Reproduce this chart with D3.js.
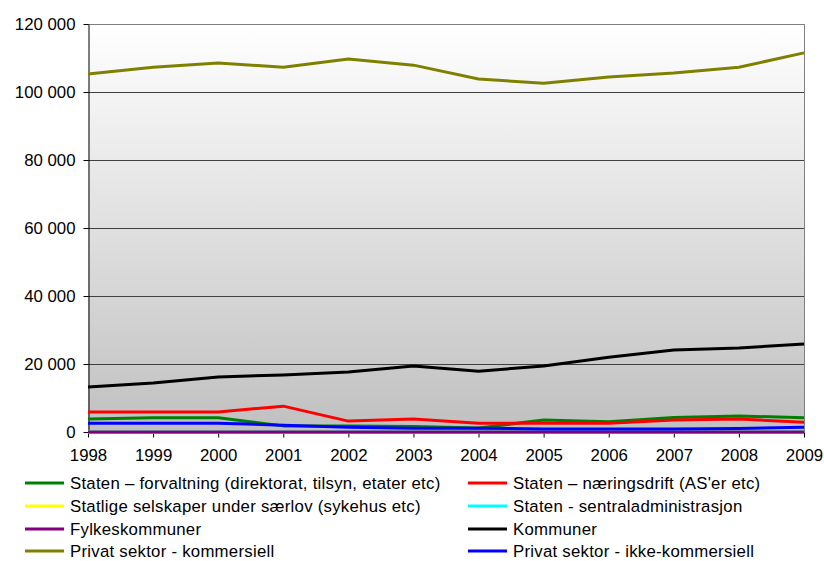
<!DOCTYPE html>
<html><head><meta charset="utf-8">
<script src="https://cdn.jsdelivr.net/npm/d3@7"></script>
<style>body{margin:0;background:#fff;}svg{display:block;font-family:"Liberation Sans",Arial,sans-serif;}</style>
</head><body>
<script>
const years = [1998,1999,2000,2001,2002,2003,2004,2005,2006,2007,2008,2009];
const yTicks = [0,20000,40000,60000,80000,100000,120000];
const seriesNames = [
  "Staten – forvaltning (direktorat, tilsyn, etater etc)",
  "Staten – næringsdrift (AS'er etc)",
  "Statlige selskaper under særlov (sykehus etc)",
  "Staten - sentraladministrasjon",
  "Fylkeskommuner",
  "Kommuner",
  "Privat sektor - kommersiell",
  "Privat sektor - ikke-kommersiell"
];
const seriesColors = ["#008000","#ff0000","#ffff00","#00ffff","#800080","#000000","#808000","#0000ff"];
const forvaltning = [3800,4200,4200,1800,1800,1600,1200,3500,3000,4300,4700,4200];
const naeringsdrift = [5900,5900,5900,7600,3200,3800,2600,2600,2600,3500,3800,2900];
const saerlov = [0,0,0,0,0,0,0,0,0,0,0,0];
const sentraladm = [0,0,0,0,0,0,0,0,0,0,0,0];
const fylkeskommuner = [0,0,0,0,0,0,0,0,0,0,0,0];
const kommuner = [13200,14400,16200,16800,17650,19400,17900,19400,22000,24100,24700,25900];
const privatKomm = [105300,107300,108500,107300,109700,107900,103800,102600,104400,105600,107300,111500];
const privatIkke = [2600,2600,2600,2000,1400,1100,1100,900,900,900,1000,1400];
const seriesValues = [forvaltning,naeringsdrift,saerlov,sentraladm,fylkeskommuner,kommuner,privatKomm,privatIkke];

const W=824,H=561, L=88, R=804, T=24, B=432;
const FS=16.8;
const svg=d3.select("body").append("svg").attr("width",W).attr("height",H);
const x=d3.scaleLinear().domain([1998,2009]).range([L,R]);
const y=d3.scaleLinear().domain([0,120000]).range([B,T]);

const defs=svg.append("defs");
const g=defs.append("linearGradient").attr("id","bg").attr("x1",0).attr("y1",0).attr("x2",0).attr("y2",1);
g.append("stop").attr("offset","0%").attr("stop-color","#ffffff");
g.append("stop").attr("offset","100%").attr("stop-color","#c0c0c0");
svg.append("rect").attr("x",L).attr("y",T).attr("width",R-L).attr("height",B-T).attr("fill","url(#bg)");

// gridlines
svg.append("g").selectAll("line").data(yTicks.filter(d=>d>0)).join("line")
  .attr("x1",L).attr("x2",R).attr("y1",d=>Math.round(y(d))+0.5).attr("y2",d=>Math.round(y(d))+0.5)
  .attr("stroke",d=>d===120000?"#808080":"#404040").attr("stroke-width",1);
// right border
svg.append("line").attr("x1",R+0.5).attr("x2",R+0.5).attr("y1",T).attr("y2",B).attr("stroke","#808080");

// axes
const fmt=d=>d3.format(",")(d).replace(/,/g," ");
const yAxis=svg.append("g").attr("transform",`translate(${L+0.5},0)`)
  .call(d3.axisLeft(y).tickValues(yTicks).tickFormat(fmt).tickSize(5).tickSizeOuter(0));
yAxis.select(".domain").attr("stroke","#000");
yAxis.selectAll("text").attr("font-size",FS).attr("fill","#000").attr("x",-13).attr("dy","0.35em");
const xAxis=svg.append("g").attr("transform",`translate(0,${B+0.5})`)
  .call(d3.axisBottom(x).tickValues(years).tickFormat(d3.format("d")).tickSize(5).tickSizeOuter(0));
xAxis.select(".domain").attr("stroke","#000");
xAxis.selectAll("text").attr("font-size",FS).attr("fill","#000").attr("y",17);
svg.selectAll(".tick text").attr("font-family","Liberation Sans, Arial, sans-serif");

// lines
const line=d3.line().x((d,i)=>x(years[i])).y(d=>y(d));
const drawOrder=[0,1,2,3,4,5,6,7];
svg.append("g").selectAll("path").data(drawOrder).join("path")
  .attr("d",i=>line(seriesValues[i])).attr("fill","none")
  .attr("stroke",i=>seriesColors[i]).attr("stroke-width",3).attr("stroke-linejoin","round");

// legend
const leg=svg.append("g");
const rowsY=[483,506,529,551];
seriesNames.forEach((n,i)=>{
  const col=i%2, row=Math.floor(i/2);
  const lx= col===0?25:468, ly=rowsY[row];
  leg.append("line").attr("x1",lx).attr("x2",lx+39).attr("y1",ly).attr("y2",ly).attr("stroke",seriesColors[i]).attr("stroke-width",3);
  leg.append("text").attr("x",lx+45).attr("y",ly).attr("dy","0.35em").attr("font-size",FS)
    .attr("letter-spacing","0.25px").attr("fill","#000").text(n);
});
</script>
</body></html>
